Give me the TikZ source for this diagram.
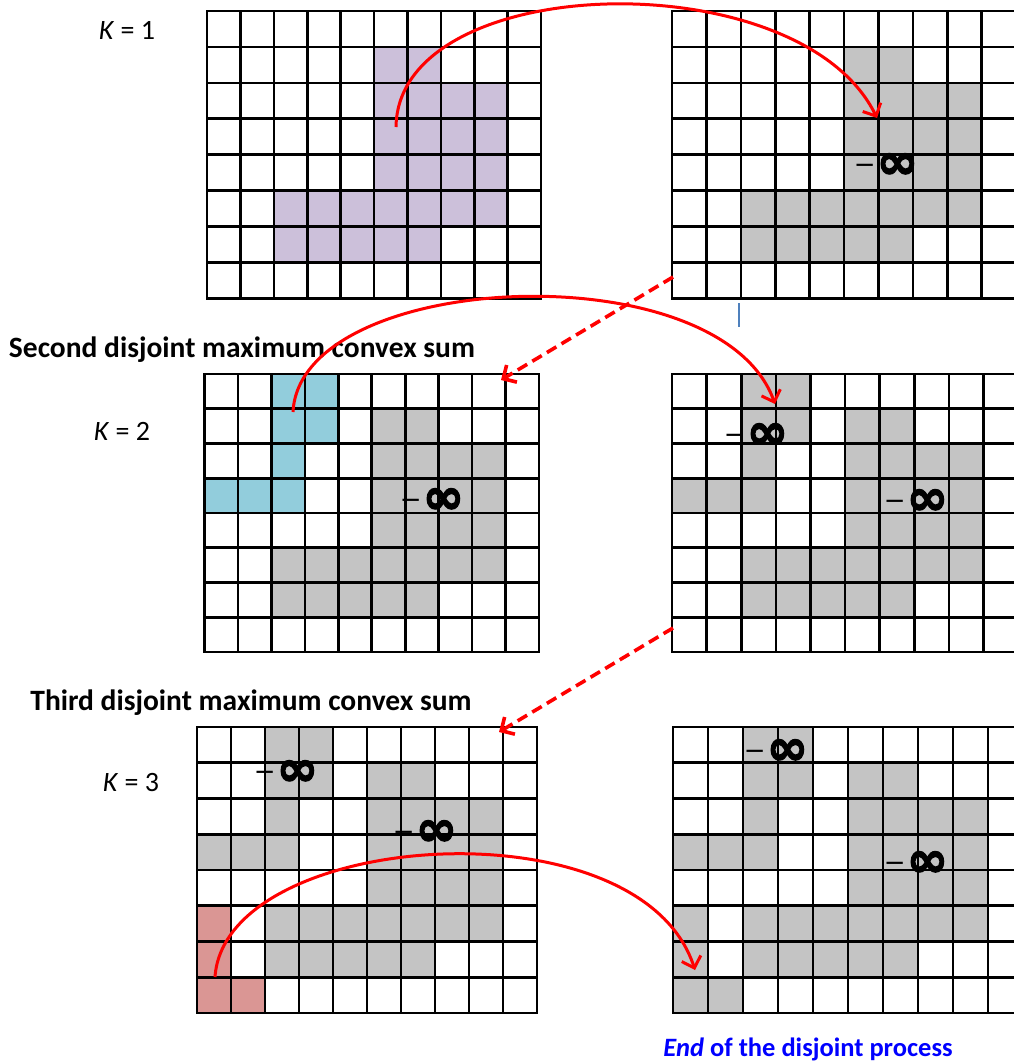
\documentclass[tikz,border=0pt]{standalone}
\usepackage{fontspec}
\setmainfont{Carlito}
\newfontfamily\symfont{DejaVu Sans}
\newfontfamily\heavyfont[FakeBold=2.5]{DejaVu Sans Bold}
\usetikzlibrary{arrows.meta}

\definecolor{cellpurple}{HTML}{CCC0DA}
\definecolor{cellcyan}{HTML}{92CDDC}
\definecolor{cellred}{HTML}{DA9694}
\definecolor{cellgray}{HTML}{C4C4C4}
\definecolor{tickblue}{HTML}{4F81BD}

\tikzset{
  gridline/.style={line width=2.6pt, line cap=rect},
  kvalue/.style={font=\fontsize{28}{32}\selectfont},
  heading/.style={font=\fontsize{29.5}{34}\selectfont\bfseries},
  endline/.style={font=\fontsize{26.5}{30}\selectfont\bfseries, text=blue},
  minf/.style={inner sep=0pt},
  flow/.style={draw=red, line width=3pt, -{Straight Barb[length=10pt,width=20pt]}},
  jump/.style={flow, line width=3.6pt, dash pattern=on 11pt off 6pt}
}

\newcommand\cellgrid{%
  \foreach \cx in {0,...,10} \draw[gridline] (\cx,0) -- (\cx,8);
  \foreach \ry in {0,...,8} \draw[gridline] (0,\ry) -- (10,\ry);}
\newcommand\regionone[1]{\fill[#1] (5,1) rectangle (7,2) (5,2) rectangle (9,5) (2,5) rectangle (9,6) (2,6) rectangle (7,7);}
\newcommand\regiontwo[1]{\fill[#1] (2,0) rectangle (4,2) (2,2) rectangle (3,3) (0,3) rectangle (3,4);}
\newcommand\regionthree[1]{\fill[#1] (0,5) rectangle (1,8) (1,7) rectangle (2,8);}
\newcommand\neginf{\raisebox{5pt}{\symfont\fontsize{26}{26}\selectfont −}\kern1pt{\heavyfont\fontsize{50}{50}\selectfont ∞}}

\begin{document}
\begin{tikzpicture}[x=1pt, y=-1pt]
    \useasboundingbox (0,0) rectangle (1013,1063);

    \begin{scope}[shift={(207,11)}, x=33.4pt, y=-35.9pt]
        \regionone{cellpurple}
        \cellgrid
    \end{scope}
    \begin{scope}[shift={(672,11)}, x=34.4pt, y=-35.9pt]
        \regionone{cellgray}
        \cellgrid
    \end{scope}
    \begin{scope}[shift={(204.5,374)}, x=33.45pt, y=-34.75pt]
        \regionone{cellgray}
        \regiontwo{cellcyan}
        \cellgrid
    \end{scope}
    \begin{scope}[shift={(672,374)}, x=34.6pt, y=-34.75pt]
        \regionone{cellgray}
        \regiontwo{cellgray}
        \cellgrid
    \end{scope}
    \begin{scope}[shift={(197,727)}, x=34pt, y=-35.75pt]
        \regionone{cellgray}
        \regiontwo{cellgray}
        \regionthree{cellred}
        \cellgrid
    \end{scope}
    \begin{scope}[shift={(673,727)}, x=35pt, y=-35.75pt]
        \regionone{cellgray}
        \regiontwo{cellgray}
        \regionthree{cellgray}
        \cellgrid
    \end{scope}

    \node[kvalue] (k1) at (127,30) {\textit{K} = 1};
    \node[kvalue] (k2) at (122,431) {\textit{K} = 2};
    \node[kvalue] (k3) at (131,783) {\textit{K} = 3};
    \node[heading] (title2) at (242,350) {Second disjoint maximum convex sum};
    \node[heading] (title3) at (251,703) {Third disjoint maximum convex sum};
    \node[endline] (endnote) at (808,1049) {\textit{End} of the disjoint process};

    \node[minf] (inf1) at (886,166) {\neginf};
    \node[minf] (inf2) at (432,501) {\neginf};
    \node[minf] (inf3) at (756,436) {\neginf};
    \node[minf] (inf4) at (916,502) {\neginf};
    \node[minf] (inf5) at (286,773) {\neginf};
    \node[minf] (inf6) at (425,833) {\neginf};
    \node[minf] (inf7) at (776,752) {\neginf};
    \node[minf] (inf8) at (916,864) {\neginf};

    \coordinate (pick1) at (396,127);
    \coordinate (hit1) at (877,118);
    \coordinate (pick2) at (293,412);
    \coordinate (hit2) at (775,404);
    \coordinate (pick3) at (215,977);
    \coordinate (hit3) at (695,970);
    \coordinate (from1) at (673,277);
    \coordinate (to1) at (501,380);
    \coordinate (from2) at (673,628);
    \coordinate (to2) at (499,732);

    \draw[flow] (pick1) .. controls +(2,-157) and +(-77,-158) .. (hit1);
    \draw[flow] (pick2) .. controls +(7,-142) and +(-55,-154) .. (hit2);
    \draw[flow] (pick3) .. controls +(10,-147) and +(-55,-170) .. (hit3);
    \draw[jump] (from1) -- (to1);
    \draw[jump] (from2) -- (to2);

    \draw[tickblue, line width=1.6pt] (739,303) -- (739,327);
\end{tikzpicture}
\end{document}
